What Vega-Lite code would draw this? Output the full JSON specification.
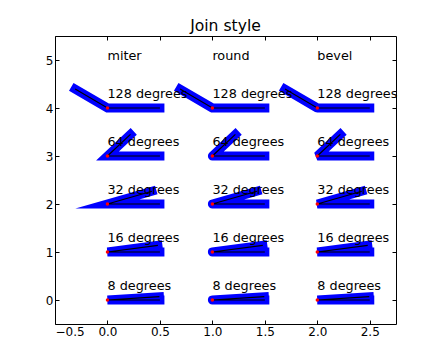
{
  "$schema": "https://vega.github.io/schema/vega-lite/v6.json",
  "width": 341,
  "height": 288,
  "autosize": "none",
  "padding": {"left": 55, "top": 36, "right": 44, "bottom": 36},
  "title": {"text": "Join style", "font": "DejaVu Sans", "fontSize": 15.6, "fontWeight": "normal", "color": "black", "baseline": "alphabetic", "offset": 6, "dy": 17, "anchor": "middle"},
  "config": {
    "view": {"stroke": "black", "strokeWidth": 1},
    "axis": {"domain": false, "grid": false, "tickColor": "black", "tickSize": -4, "labelColor": "black", "labelFont": "DejaVu Sans", "labelFontSize": 12, "labelPadding": 6, "minExtent": 0}
  },
  "datasets": {
    "lines": [
      {"id": "m8", "s": "miter", "o": 0, "x": 0.5, "y": 0},
      {"id": "m8", "s": "miter", "o": 1, "x": 0, "y": 0},
      {"id": "m8", "s": "miter", "o": 2, "x": 0.495134, "y": 0.069587},
      {"id": "m16", "s": "miter", "o": 0, "x": 0.5, "y": 1},
      {"id": "m16", "s": "miter", "o": 1, "x": 0, "y": 1},
      {"id": "m16", "s": "miter", "o": 2, "x": 0.480631, "y": 1.137819},
      {"id": "m32", "s": "miter", "o": 0, "x": 0.5, "y": 2},
      {"id": "m32", "s": "miter", "o": 1, "x": 0, "y": 2},
      {"id": "m32", "s": "miter", "o": 2, "x": 0.424024, "y": 2.26496},
      {"id": "m64", "s": "miter", "o": 0, "x": 0.5, "y": 3},
      {"id": "m64", "s": "miter", "o": 1, "x": 0, "y": 3},
      {"id": "m64", "s": "miter", "o": 2, "x": 0.219186, "y": 3.449397},
      {"id": "m128", "s": "miter", "o": 0, "x": 0.5, "y": 4},
      {"id": "m128", "s": "miter", "o": 1, "x": 0, "y": 4},
      {"id": "m128", "s": "miter", "o": 2, "x": -0.307831, "y": 4.394005},
      {"id": "r8", "s": "round", "o": 0, "x": 1.5, "y": 0},
      {"id": "r8", "s": "round", "o": 1, "x": 1, "y": 0},
      {"id": "r8", "s": "round", "o": 2, "x": 1.495134, "y": 0.069587},
      {"id": "r16", "s": "round", "o": 0, "x": 1.5, "y": 1},
      {"id": "r16", "s": "round", "o": 1, "x": 1, "y": 1},
      {"id": "r16", "s": "round", "o": 2, "x": 1.480631, "y": 1.137819},
      {"id": "r32", "s": "round", "o": 0, "x": 1.5, "y": 2},
      {"id": "r32", "s": "round", "o": 1, "x": 1, "y": 2},
      {"id": "r32", "s": "round", "o": 2, "x": 1.424024, "y": 2.26496},
      {"id": "r64", "s": "round", "o": 0, "x": 1.5, "y": 3},
      {"id": "r64", "s": "round", "o": 1, "x": 1, "y": 3},
      {"id": "r64", "s": "round", "o": 2, "x": 1.219186, "y": 3.449397},
      {"id": "r128", "s": "round", "o": 0, "x": 1.5, "y": 4},
      {"id": "r128", "s": "round", "o": 1, "x": 1, "y": 4},
      {"id": "r128", "s": "round", "o": 2, "x": 0.692169, "y": 4.394005},
      {"id": "b8", "s": "bevel", "o": 0, "x": 2.5, "y": 0},
      {"id": "b8", "s": "bevel", "o": 1, "x": 2, "y": 0},
      {"id": "b8", "s": "bevel", "o": 2, "x": 2.495134, "y": 0.069587},
      {"id": "b16", "s": "bevel", "o": 0, "x": 2.5, "y": 1},
      {"id": "b16", "s": "bevel", "o": 1, "x": 2, "y": 1},
      {"id": "b16", "s": "bevel", "o": 2, "x": 2.480631, "y": 1.137819},
      {"id": "b32", "s": "bevel", "o": 0, "x": 2.5, "y": 2},
      {"id": "b32", "s": "bevel", "o": 1, "x": 2, "y": 2},
      {"id": "b32", "s": "bevel", "o": 2, "x": 2.424024, "y": 2.26496},
      {"id": "b64", "s": "bevel", "o": 0, "x": 2.5, "y": 3},
      {"id": "b64", "s": "bevel", "o": 1, "x": 2, "y": 3},
      {"id": "b64", "s": "bevel", "o": 2, "x": 2.219186, "y": 3.449397},
      {"id": "b128", "s": "bevel", "o": 0, "x": 2.5, "y": 4},
      {"id": "b128", "s": "bevel", "o": 1, "x": 2, "y": 4},
      {"id": "b128", "s": "bevel", "o": 2, "x": 1.692169, "y": 4.394005}
    ],
    "labels": [
      {"x": 0, "y": 5, "t": "miter"},
      {"x": 1, "y": 5, "t": "round"},
      {"x": 2, "y": 5, "t": "bevel"},
      {"x": 0, "y": 0.2, "t": "8 degrees"},
      {"x": 0, "y": 1.2, "t": "16 degrees"},
      {"x": 0, "y": 2.2, "t": "32 degrees"},
      {"x": 0, "y": 3.2, "t": "64 degrees"},
      {"x": 0, "y": 4.2, "t": "128 degrees"},
      {"x": 1, "y": 0.2, "t": "8 degrees"},
      {"x": 1, "y": 1.2, "t": "16 degrees"},
      {"x": 1, "y": 2.2, "t": "32 degrees"},
      {"x": 1, "y": 3.2, "t": "64 degrees"},
      {"x": 1, "y": 4.2, "t": "128 degrees"},
      {"x": 2, "y": 0.2, "t": "8 degrees"},
      {"x": 2, "y": 1.2, "t": "16 degrees"},
      {"x": 2, "y": 2.2, "t": "32 degrees"},
      {"x": 2, "y": 3.2, "t": "64 degrees"},
      {"x": 2, "y": 4.2, "t": "128 degrees"}
    ]
  },
  "resolve": {"axis": {"x": "independent", "y": "independent"}},
  "layer": [
    {
      "data": {"name": "lines"},
      "transform": [{"filter": "datum.s === 'miter'"}],
      "mark": {"type": "line", "color": "#0000ff", "strokeWidth": 9, "strokeCap": "square", "strokeJoin": "miter", "strokeMiterLimit": 10},
      "encoding": {
        "x": {"field": "x", "type": "quantitative", "scale": {"domain": [-0.5, 2.75], "nice": false, "zero": false}, "axis": null},
        "y": {"field": "y", "type": "quantitative", "scale": {"domain": [-0.5, 5.5], "nice": false, "zero": false}, "axis": null},
        "detail": {"field": "id"},
        "order": {"field": "o", "type": "quantitative"}
      }
    },
    {
      "data": {"name": "lines"},
      "transform": [{"filter": "datum.s === 'round'"}],
      "mark": {"type": "line", "color": "#0000ff", "strokeWidth": 9, "strokeCap": "square", "strokeJoin": "round"},
      "encoding": {
        "x": {"field": "x", "type": "quantitative", "axis": null},
        "y": {"field": "y", "type": "quantitative", "axis": null},
        "detail": {"field": "id"},
        "order": {"field": "o", "type": "quantitative"}
      }
    },
    {
      "data": {"name": "lines"},
      "transform": [{"filter": "datum.s === 'bevel'"}],
      "mark": {"type": "line", "color": "#0000ff", "strokeWidth": 9, "strokeCap": "square", "strokeJoin": "bevel"},
      "encoding": {
        "x": {"field": "x", "type": "quantitative", "axis": null},
        "y": {"field": "y", "type": "quantitative", "axis": null},
        "detail": {"field": "id"},
        "order": {"field": "o", "type": "quantitative"}
      }
    },
    {
      "data": {"name": "lines"},
      "mark": {"type": "line", "color": "black", "strokeWidth": 1.2},
      "encoding": {
        "x": {"field": "x", "type": "quantitative", "axis": {"orient": "bottom", "values": [-0.5, 0, 0.5, 1, 1.5, 2, 2.5], "format": ".1f", "title": null}},
        "y": {"field": "y", "type": "quantitative", "axis": {"orient": "left", "values": [0, 1, 2, 3, 4, 5], "format": "d", "title": null}},
        "detail": {"field": "id"},
        "order": {"field": "o", "type": "quantitative"}
      }
    },
    {
      "data": {"name": "lines"},
      "transform": [{"filter": "datum.o === 1"}],
      "mark": {"type": "point", "filled": true, "color": "#ff0000", "size": 12, "opacity": 1},
      "encoding": {
        "x": {"field": "x", "type": "quantitative", "axis": {"orient": "top", "values": [-0.5, 0, 0.5, 1, 1.5, 2, 2.5], "labels": false, "title": null, "labelPadding": 0}},
        "y": {"field": "y", "type": "quantitative", "axis": {"orient": "right", "values": [0, 1, 2, 3, 4, 5], "labels": false, "title": null, "labelPadding": 0}}
      }
    },
    {
      "data": {"name": "labels"},
      "mark": {"type": "text", "align": "left", "baseline": "alphabetic", "font": "DejaVu Sans", "fontSize": 12.8, "color": "black"},
      "encoding": {
        "x": {"field": "x", "type": "quantitative", "axis": null},
        "y": {"field": "y", "type": "quantitative", "axis": null},
        "text": {"field": "t"}
      }
    }
  ]
}
